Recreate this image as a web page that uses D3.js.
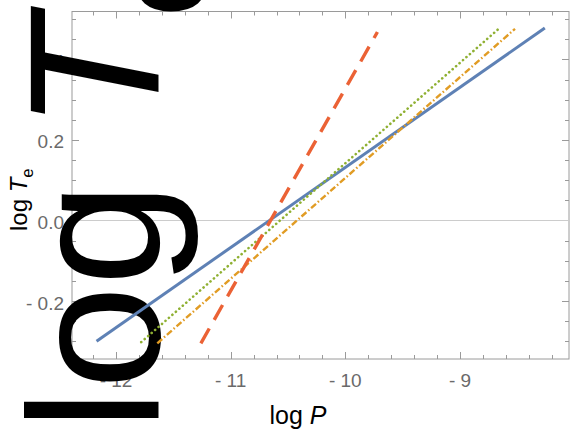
<!DOCTYPE html>
<html>
<head>
<meta charset="utf-8">
<script src="https://cdn.jsdelivr.net/npm/d3@7"></script>
<style>
  html, body { margin: 0; padding: 0; background: #fff; }
  svg { display: block; }
  text { font-family: "Liberation Sans", Arial, sans-serif; }
</style>
</head>
<body>
<svg id="chart" width="581" height="432"></svg>
<script>
// ---- data ----
const seriesNames = ["blue", "orange", "green", "red"];
const blueLine   = [[-12.17, -0.300], [-8.26, 0.478]];
const orangeLine = [[-11.64, -0.305], [-8.52, 0.476]];
const greenLine  = [[-11.78, -0.302], [-8.67, 0.474]];
const redLine    = [[-11.26, -0.305], [-9.72, 0.468]];
const xMajorTicks = [-12, -11, -10, -9];
const xTickLabels = ["- 12", "- 11", "- 10", "- 9"];
const yMajorTicks = [-0.2, 0.0, 0.2, 0.4];
const yTickLabels = ["- 0.2", "0.0", "0.2", "0.4"];
const xDomain = [-12.384, -8.049];
const yDomain = [-0.344, 0.519];

// ---- layout ----
const svg = d3.select("#chart");
const L = 72, R = 569, T = 11.5, B = 359;
const x = d3.scaleLinear().domain(xDomain).range([L, R]);
const y = d3.scaleLinear().domain(yDomain).range([B, T]);

const frameColor = "#9a9a9a";
const tickLabelColor = "#6a6a6a";

// frame
svg.append("rect").attr("x", L).attr("y", T).attr("width", R - L).attr("height", B - T)
  .attr("fill", "none").attr("stroke", frameColor).attr("stroke-width", 1);

// ticks
const xMinor = d3.range(-12.4, -8.0 + 1e-9, 0.2).map(v => +v.toFixed(2)).filter(v => v >= xDomain[0] && v <= xDomain[1]);
const yMinor = d3.range(-0.35, 0.55 + 1e-9, 0.05).map(v => +v.toFixed(2)).filter(v => v >= yDomain[0] && v <= yDomain[1]);
const isMajX = v => xMajorTicks.some(m => Math.abs(m - v) < 1e-6);
const isMajY = v => yMajorTicks.some(m => Math.abs(m - v) < 1e-6);
const tg = svg.append("g").attr("stroke", frameColor).attr("stroke-width", 1);
xMinor.forEach(v => {
  const len = isMajX(v) ? 7 : 4;
  const px = Math.round(x(v)) + 0.5;
  tg.append("line").attr("x1", px).attr("x2", px).attr("y1", B).attr("y2", B - len);
  tg.append("line").attr("x1", px).attr("x2", px).attr("y1", T).attr("y2", T + len);
});
yMinor.forEach(v => {
  const len = isMajY(v) ? 7 : 4;
  const py = Math.round(y(v)) + 0.5;
  tg.append("line").attr("x1", L).attr("x2", L + len).attr("y1", py).attr("y2", py);
  tg.append("line").attr("x1", R).attr("x2", R - len).attr("y1", py).attr("y2", py);
});

// zero grid line
svg.append("line").attr("x1", L).attr("x2", R).attr("y1", y(0)).attr("y2", y(0))
  .attr("stroke", "#cccccc").attr("stroke-width", 1.2);

// tick labels
xMajorTicks.forEach((v, i) => {
  svg.append("text").attr("x", x(v)).attr("y", 387).attr("text-anchor", "middle")
    .attr("font-size", 19).attr("fill", tickLabelColor).text(xTickLabels[i]);
});
yMajorTicks.forEach((v, i) => {
  svg.append("text").attr("x", 64).attr("y", y(v) + 8.5).attr("text-anchor", "end")
    .attr("font-size", 19).attr("fill", tickLabelColor).text(yTickLabels[i]);
});

// y label helper
function addYLabel(g, size) {
  const t = g.append("text").attr("font-size", size).attr("fill", "#000");
  t.append("tspan").text("log ");
  t.append("tspan").attr("font-style", "italic").text("T");
  t.append("tspan").attr("font-size", size * 0.7).attr("dy", size * 0.25).text("e");
  return t;
}
// giant rotated label (as in the reference), drawn over frame and tick labels
const giant = svg.append("g").attr("transform", "translate(159,430.5) rotate(-90)");
addYLabel(giant, 186);

// series (on top of the giant label)
const line = d3.line().x(d => x(d[0])).y(d => y(d[1]));
const series = [
  { name: seriesNames[0], data: blueLine,   color: "#5E81B5", width: 3,   dash: null,              cap: "butt" },
  { name: seriesNames[1], data: orangeLine, color: "#E19C24", width: 2.4, dash: "6.5,2.4,1.5,2.4", cap: "butt" },
  { name: seriesNames[2], data: greenLine,  color: "#8FB032", width: 2.6, dash: "0.1,4.5",         cap: "round" },
  { name: seriesNames[3], data: redLine,    color: "#EB6235", width: 3.4, dash: "17,10",           cap: "butt" }
];
series.forEach(s => {
  svg.append("path").attr("d", line(s.data)).attr("fill", "none")
    .attr("stroke", s.color).attr("stroke-width", s.width)
    .attr("stroke-linecap", s.cap)
    .attr("stroke-dasharray", s.dash);
});

// axis labels
const xl = svg.append("text").attr("x", 298).attr("y", 424).attr("text-anchor", "middle")
  .attr("font-size", 25).attr("fill", "#000");
xl.append("tspan").text("log ");
xl.append("tspan").attr("font-style", "italic").text("P");

const small = svg.append("g").attr("transform", "translate(27,231) rotate(-90)");
addYLabel(small, 24);
</script>
</body>
</html>
